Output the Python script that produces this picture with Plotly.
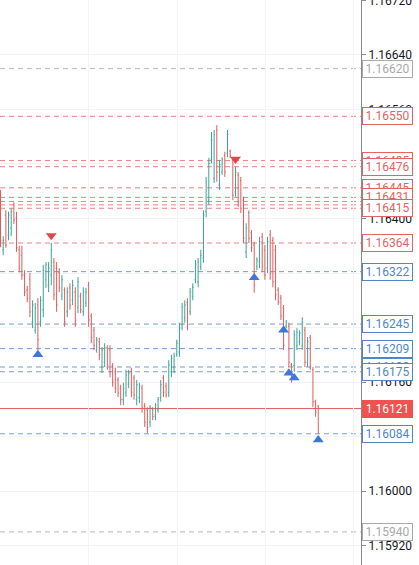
import plotly.graph_objects as go

# ---------------- data ----------------
bar_open = [1.16439, 1.16354, 1.16405, 1.16376, 1.16386, 1.16420, 1.16401, 1.16354, 1.16346, 1.16317,
            1.16295, 1.16310, 1.16248, 1.16236, 1.16273, 1.16248, 1.16266, 1.16310, 1.16302, 1.16317,
            1.16336, 1.16327, 1.16321, 1.16286, 1.16295, 1.16263, 1.16298, 1.16280, 1.16292, 1.16269,
            1.16286, 1.16263, 1.16276, 1.16302, 1.16257, 1.16236, 1.16207, 1.16219, 1.16181, 1.16189,
            1.16210, 1.16207, 1.16184, 1.16175, 1.16163, 1.16151, 1.16134, 1.16145, 1.16157, 1.16175,
            1.16166, 1.16134, 1.16137, 1.16151, 1.16125, 1.16119, 1.16101, 1.16120, 1.16110, 1.16119,
            1.16137, 1.16166, 1.16154, 1.16145, 1.16175, 1.16181, 1.16201, 1.16204, 1.16244, 1.16254,
            1.16277, 1.16263, 1.16285, 1.16310, 1.16307, 1.16329, 1.16342, 1.16410, 1.16427, 1.16486,
            1.16459, 1.16530, 1.16449, 1.16468, 1.16493, 1.16496, 1.16499, 1.16486, 1.16439, 1.16464,
            1.16456, 1.16427, 1.16351, 1.16408, 1.16379, 1.16361, 1.16329, 1.16336, 1.16373, 1.16354,
            1.16327, 1.16376, 1.16368, 1.16354, 1.16295, 1.16283, 1.16269, 1.16242, 1.16242, 1.16185,
            1.16184, 1.16213, 1.16219, 1.16213, 1.16236, 1.16189, 1.16225, 1.16178, 1.16131, 1.16125]
bar_high = [1.16442, 1.16374, 1.16412, 1.16410, 1.16415, 1.16424, 1.16410, 1.16360, 1.16360, 1.16324,
            1.16301, 1.16320, 1.16280, 1.16276, 1.16283, 1.16286, 1.16332, 1.16336, 1.16336, 1.16364,
            1.16342, 1.16336, 1.16327, 1.16317, 1.16299, 1.16299, 1.16305, 1.16310, 1.16299, 1.16314,
            1.16291, 1.16299, 1.16298, 1.16307, 1.16261, 1.16241, 1.16226, 1.16225, 1.16211, 1.16217,
            1.16214, 1.16214, 1.16188, 1.16181, 1.16167, 1.16156, 1.16159, 1.16178, 1.16178, 1.16181,
            1.16170, 1.16163, 1.16159, 1.16156, 1.16129, 1.16123, 1.16126, 1.16123, 1.16129, 1.16138,
            1.16163, 1.16170, 1.16159, 1.16192, 1.16200, 1.16203, 1.16222, 1.16247, 1.16276, 1.16280,
            1.16283, 1.16298, 1.16305, 1.16339, 1.16342, 1.16354, 1.16412, 1.16461, 1.16489, 1.16527,
            1.16530, 1.16537, 1.16486, 1.16490, 1.16498, 1.16530, 1.16501, 1.16490, 1.16476, 1.16468,
            1.16461, 1.16432, 1.16393, 1.16412, 1.16383, 1.16366, 1.16343, 1.16373, 1.16379, 1.16361,
            1.16373, 1.16383, 1.16373, 1.16361, 1.16299, 1.16288, 1.16273, 1.16251, 1.16247, 1.16188,
            1.16236, 1.16239, 1.16236, 1.16255, 1.16241, 1.16226, 1.16229, 1.16182, 1.16134, 1.16126]
bar_low = [1.16358, 1.16346, 1.16357, 1.16368, 1.16374, 1.16392, 1.16351, 1.16321, 1.16310, 1.16286,
           1.16277, 1.16255, 1.16239, 1.16231, 1.16207, 1.16241, 1.16255, 1.16298, 1.16292, 1.16302,
           1.16280, 1.16263, 1.16292, 1.16280, 1.16241, 1.16255, 1.16266, 1.16273, 1.16241, 1.16261,
           1.16261, 1.16257, 1.16270, 1.16241, 1.16217, 1.16207, 1.16203, 1.16192, 1.16173, 1.16182,
           1.16178, 1.16167, 1.16153, 1.16144, 1.16138, 1.16126, 1.16126, 1.16138, 1.16151, 1.16138,
           1.16134, 1.16126, 1.16129, 1.16115, 1.16094, 1.16085, 1.16094, 1.16104, 1.16104, 1.16115,
           1.16131, 1.16138, 1.16137, 1.16138, 1.16167, 1.16173, 1.16197, 1.16197, 1.16236, 1.16247,
           1.16236, 1.16258, 1.16280, 1.16305, 1.16299, 1.16324, 1.16335, 1.16402, 1.16420, 1.16481,
           1.16452, 1.16454, 1.16442, 1.16464, 1.16461, 1.16490, 1.16489, 1.16427, 1.16432, 1.16417,
           1.16408, 1.16364, 1.16342, 1.16364, 1.16351, 1.16291, 1.16324, 1.16327, 1.16321, 1.16310,
           1.16320, 1.16310, 1.16299, 1.16280, 1.16273, 1.16251, 1.16207, 1.16239, 1.16182, 1.16159,
           1.16175, 1.16207, 1.16214, 1.16207, 1.16182, 1.16182, 1.16178, 1.16123, 1.16109, 1.16084]
bar_close = [1.16368, 1.16368, 1.16361, 1.16405, 1.16410, 1.16398, 1.16357, 1.16327, 1.16317, 1.16292,
             1.16283, 1.16263, 1.16273, 1.16269, 1.16222, 1.16280, 1.16324, 1.16332, 1.16327, 1.16354,
             1.16288, 1.16273, 1.16298, 1.16310, 1.16248, 1.16292, 1.16273, 1.16302, 1.16251, 1.16307,
             1.16266, 1.16292, 1.16292, 1.16251, 1.16225, 1.16214, 1.16222, 1.16200, 1.16207, 1.16210,
             1.16185, 1.16175, 1.16160, 1.16151, 1.16144, 1.16134, 1.16151, 1.16170, 1.16173, 1.16145,
             1.16141, 1.16156, 1.16154, 1.16122, 1.16101, 1.16093, 1.16122, 1.16109, 1.16126, 1.16134,
             1.16156, 1.16145, 1.16141, 1.16185, 1.16195, 1.16198, 1.16217, 1.16239, 1.16270, 1.16273,
             1.16244, 1.16292, 1.16299, 1.16333, 1.16336, 1.16346, 1.16405, 1.16454, 1.16481, 1.16515,
             1.16523, 1.16468, 1.16479, 1.16486, 1.16468, 1.16523, 1.16492, 1.16434, 1.16468, 1.16424,
             1.16415, 1.16371, 1.16386, 1.16371, 1.16357, 1.16302, 1.16339, 1.16366, 1.16329, 1.16317,
             1.16366, 1.16321, 1.16307, 1.16288, 1.16277, 1.16257, 1.16214, 1.16248, 1.16189, 1.16166,
             1.16229, 1.16233, 1.16232, 1.16248, 1.16189, 1.16219, 1.16184, 1.16131, 1.16116, 1.16121]

# horizontal levels
gray_levels = [1.16620, 1.15940]
red_levels = [1.16550, 1.16485, 1.16476, 1.16445, 1.16431, 1.16425, 1.16420, 1.16415, 1.16364]
blue_levels = [1.16322, 1.16245, 1.16209, 1.16182, 1.16175, 1.16084]
red_labeled = [1.16550, 1.16485, 1.16476, 1.16445, 1.16431, 1.16415, 1.16364]
blue_labeled = [1.16322, 1.16245, 1.16209, 1.16182, 1.16175, 1.16084]
last_price = 1.16121

# pivot markers: (bar index, level)
pivot_high_idx = [19, 88]
pivot_high_lvl = [1.16364, 1.16476]
pivot_low_idx = [14, 95, 106, 108, 110, 119]
pivot_low_lvl = [1.16209, 1.16322, 1.16245, 1.16182, 1.16175, 1.16084]

tick_values = [1.15920, 1.16000, 1.16080, 1.16160, 1.16240, 1.16320, 1.16400,
               1.16480, 1.16560, 1.16640, 1.16720]
# tick labels that are completely covered by price labels in the reference
covered_ticks = [1.16080, 1.16240, 1.16320, 1.16480]

# ---------------- styling ----------------
UP = "#3aa394"
DOWN = "#e05a5a"
RED_LINE = "rgba(226,96,96,0.8)"
BLUE_LINE = "rgba(84,130,196,0.8)"
GRAY_LINE = "rgba(170,170,170,0.85)"
RED_TXT = "#e06464"
BLUE_TXT = "#4f86c6"
GRAY_TXT = "#a8a8a8"
FONT = "Roboto"

idx = list(range(len(bar_open)))

fig = go.Figure()
fig.add_trace(go.Ohlc(
    x=idx, open=bar_open, high=bar_high, low=bar_low, close=bar_close,
    increasing=dict(line=dict(color=UP, width=1)),
    decreasing=dict(line=dict(color=DOWN, width=1)),
    tickwidth=0.35, hoverinfo="skip", showlegend=False))

# triangles
ppx = 1 / 68131.0  # one pixel in price units (from the axis scale)
fig.add_trace(go.Scatter(
    x=pivot_high_idx, y=[v + 7.5 * ppx for v in pivot_high_lvl], mode="markers",
    marker=dict(symbol="triangle-down", size=9.5, color="#e04848", line=dict(width=0)),
    hoverinfo="skip", showlegend=False))
fig.add_trace(go.Scatter(
    x=pivot_low_idx, y=[v - 6 * ppx for v in pivot_low_lvl], mode="markers",
    marker=dict(symbol="triangle-up", size=9.5, color="#3b78d8", line=dict(width=0)),
    hoverinfo="skip", showlegend=False))

DASH = "5px,4px"
for lv in gray_levels:
    fig.add_shape(type="line", xref="paper", x0=0, x1=1, yref="y", y0=lv, y1=lv,
                  line=dict(color=GRAY_LINE, width=1, dash=DASH), layer="between")
for lv in red_levels:
    fig.add_shape(type="line", xref="paper", x0=0, x1=1, yref="y", y0=lv, y1=lv,
                  line=dict(color=RED_LINE, width=1, dash=DASH), layer="between")
for lv in blue_levels:
    fig.add_shape(type="line", xref="paper", x0=0, x1=1, yref="y", y0=lv, y1=lv,
                  line=dict(color=BLUE_LINE, width=1, dash=DASH), layer="between")
fig.add_shape(type="line", xref="paper", x0=0, x1=1, yref="y", y0=last_price, y1=last_price,
              line=dict(color="#e05a5a", width=1), layer="between")

# price labels, higher first so lower ones sit on top
labels = [(v, GRAY_TXT, "white") for v in gray_levels] + \
         [(v, RED_TXT, "white") for v in red_labeled] + \
         [(v, BLUE_TXT, "white") for v in blue_labeled]
labels.sort(key=lambda t: -t[0])
for v, col, bg in labels:
    fig.add_annotation(xref="paper", x=1, xanchor="left", xshift=1, yref="y", y=v,
                       yanchor="middle", text=f"{v:.5f}", showarrow=False,
                       font=dict(family=FONT, size=12, color=col),
                       bgcolor=bg, bordercolor=col, borderwidth=1, borderpad=1,
                       width=47, height=14, align="center")
fig.add_annotation(xref="paper", x=1, xanchor="left", xshift=1, yref="y", y=last_price,
                   yanchor="middle", text=f"{last_price:.5f}", showarrow=False,
                   font=dict(family=FONT, size=12, color="white"),
                   bgcolor="#ef5350", bordercolor="#ef5350", borderwidth=1, borderpad=1,
                   width=47, height=14, align="center")

fig.update_layout(
    width=419, height=565,
    margin=dict(l=0, r=58, t=0, b=0, autoexpand=False),
    paper_bgcolor="white", plot_bgcolor="white",
    showlegend=False,
    xaxis=dict(range=[-0.2, 135.0], showticklabels=False, ticks="",
               showgrid=True, gridcolor="#f0f3fa", tick0=0.1, dtick=33,
               zeroline=False, showline=False, rangeslider=dict(visible=False),
               fixedrange=True, automargin=False),
    yaxis=dict(side="right", range=[1.158914, 1.167207],
               tickvals=tick_values,
               ticktext=["" if t in covered_ticks else f"{t:.5f}" for t in tick_values],
               ticks="outside", ticklen=4, tickcolor="#8a8a8a",
               showline=True, linecolor="#8a8a8a", linewidth=1,
               showgrid=True, gridcolor="#f0f3fa", zeroline=False,
               tickfont=dict(family=FONT, size=12, color="#131722"),
               ticklabeloverflow="allow", automargin=False,
               fixedrange=True),
)

fig.write_html("out.html")
